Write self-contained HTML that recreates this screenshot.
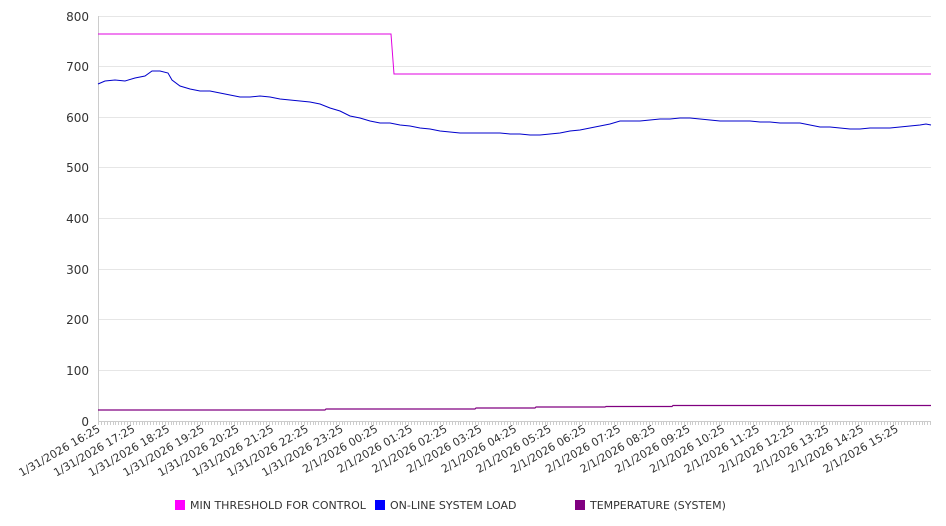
<!DOCTYPE html>
<html><head><meta charset="utf-8"><style>
html,body{margin:0;padding:0;background:#fff;width:946px;height:526px;overflow:hidden}
svg{font-family:"DejaVu Sans","Liberation Sans",sans-serif}
</style></head><body>
<svg width="946" height="526" viewBox="0 0 946 526" xmlns="http://www.w3.org/2000/svg">
<g stroke="#e6e6e6" stroke-width="1">
<line x1="98" y1="16.5" x2="931" y2="16.5"/><line x1="98" y1="66.5" x2="931" y2="66.5"/>
<line x1="98" y1="117.5" x2="931" y2="117.5"/><line x1="98" y1="167.5" x2="931" y2="167.5"/>
<line x1="98" y1="218.5" x2="931" y2="218.5"/><line x1="98" y1="269.5" x2="931" y2="269.5"/>
<line x1="98" y1="319.5" x2="931" y2="319.5"/><line x1="98" y1="370.5" x2="931" y2="370.5"/>
</g>
<line x1="98.5" y1="16" x2="98.5" y2="421" stroke="#ccc"/>
<line x1="98" y1="421.5" x2="931" y2="421.5" stroke="#ccc"/>
<g fill="#333" font-size="12" text-anchor="end">
<text x="89" y="21">800</text><text x="89" y="71">700</text><text x="89" y="122">600</text>
<text x="89" y="172">500</text><text x="89" y="223">400</text><text x="89" y="274">300</text>
<text x="89" y="324">200</text><text x="89" y="375">100</text><text x="89" y="426">0</text>
</g>
<g id="ticks" stroke="#ccc"></g>
<g id="xl" fill="#333" font-size="11" text-anchor="end"></g>
<polyline fill="none" stroke="#e000e0" stroke-width="1" points="98,34 391,34 394,74 931,74"/>
<polyline fill="none" stroke="#800080" stroke-width="1.2" points="98,410 325,410 326,409 475,409 476,408 535,408 536,407 605,407 606,406.5 672,406.5 673,405.5 931,405.5"/>
<polyline fill="none" stroke="#0000cc" stroke-width="1" points="98,84 105,81 115,80 125,81 135,78 145,76 152,71 160,71 168,73 172,80 180,86 190,89 200,91 210,91 220,93 230,95 240,97 250,97 260,96 270,97 280,99 290,100 300,101 310,102 320,104 330,108 340,111 350,116 360,118 370,121 380,123 390,123 400,125 410,126 420,128 430,129 440,131 450,132 460,133 470,133 480,133 490,133 500,133 510,134 520,134 530,135 540,135 550,134 560,133 570,131 580,130 590,128 600,126 610,124 620,121 630,121 640,121 650,120 660,119 670,119 680,118 690,118 700,119 710,120 720,121 730,121 740,121 750,121 760,122 770,122 780,123 790,123 800,123 810,125 820,127 830,127 840,128 850,129 860,129 870,128 880,128 890,128 900,127 910,126 920,125 926,124 931,125"/>
<g font-size="11" fill="#333">
<rect x="175" y="500" width="10" height="10" fill="#ff00ff"/><text x="190" y="509">MIN THRESHOLD FOR CONTROL</text>
<rect x="375" y="500" width="10" height="10" fill="#0000ff"/><text x="390" y="509">ON-LINE SYSTEM LOAD</text>
<rect x="575" y="500" width="10" height="10" fill="#800080"/><text x="590" y="509">TEMPERATURE (SYSTEM)</text>
</g>
</svg>
<script>
var t=document.getElementById('ticks'),l=document.getElementById('xl'),s='';
for(var x=98;x<=931;x+=2.9){s+='<line x1="'+(Math.round(x)+.5)+'" y1="421" x2="'+(Math.round(x)+.5)+'" y2="425"/>';}
t.innerHTML=s;s='';
for(var i=0;i<24;i++){var h=(16+i)%24,d=(16+i)>=24?'2/1/2026 ':'1/31/2026 ';var x=98+i*34.7;
s+='<text transform="translate('+(x+3)+',431) rotate(-30)">'+d+(h<10?'0':'')+h+':25</text>';}
l.innerHTML=s;
</script>
</body></html>
